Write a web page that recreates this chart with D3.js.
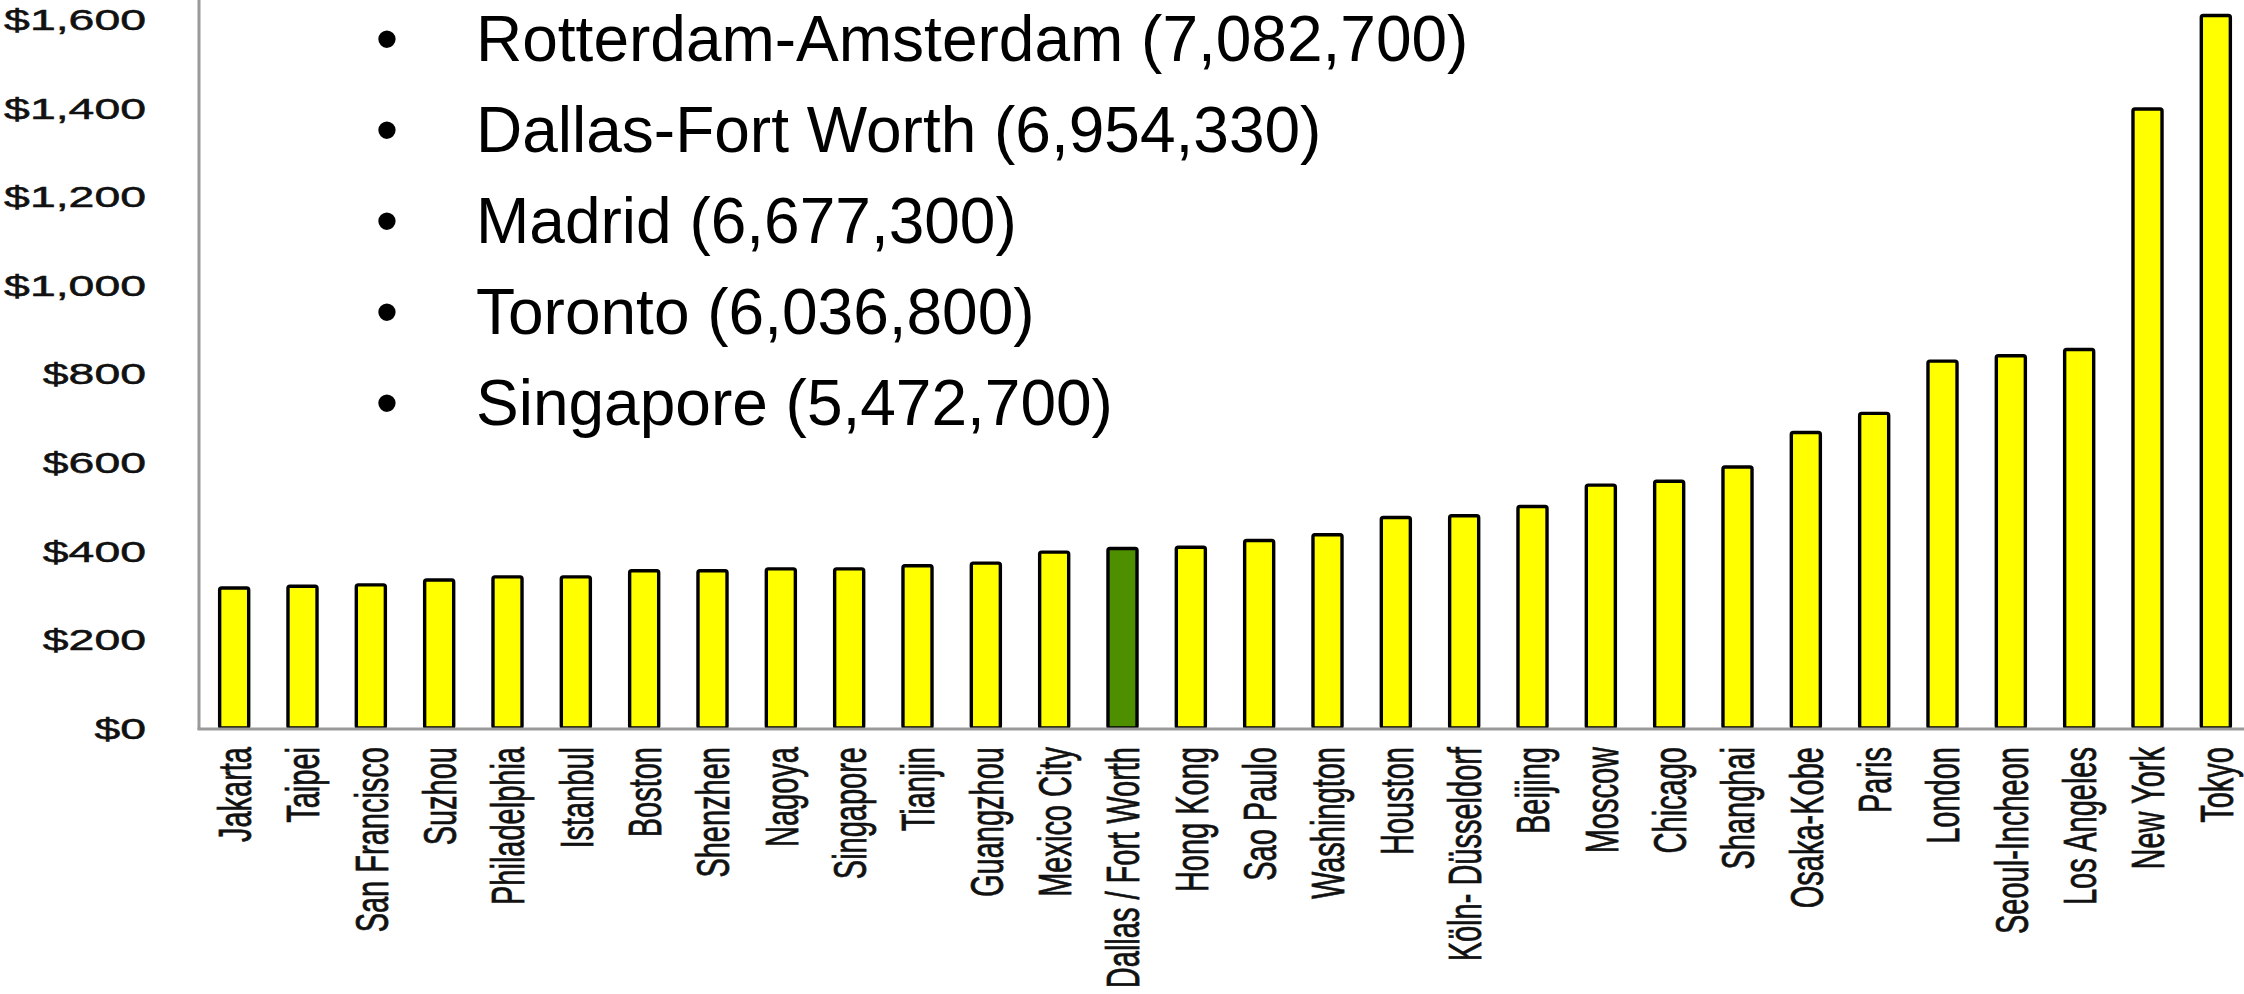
<!DOCTYPE html>
<html>
<head>
<meta charset="utf-8">
<script src="https://cdn.jsdelivr.net/npm/d3@7"></script>
<style>
  body { margin: 0; background: #fff; }
  svg { display: block; font-family: "Liberation Sans", Arial, sans-serif; }
</style>
</head>
<body>
<div id="chart"></div>
<script>
// donnees
const cities = ["Jakarta", "Taipei", "San Francisco", "Suzhou", "Philadelphia", "Istanbul",
  "Boston", "Shenzhen", "Nagoya", "Singapore", "Tianjin", "Guangzhou", "Mexico City",
  "Dallas / Fort Worth", "Hong Kong", "Sao Paulo", "Washington", "Houston",
  "Köln- Düsseldorf", "Beijing", "Moscow", "Chicago", "Shanghai", "Osaka-Kobe", "Paris",
  "London", "Seoul-Incheon", "Los Angeles", "New York", "Tokyo"];
const gdp = [316, 320, 323, 334, 341, 341, 355, 355, 359, 359, 366, 372, 397,
  405, 408, 423, 436, 475, 479, 500, 548, 557, 589, 667, 710, 828, 840, 854, 1397, 1608];
const highlight = "Dallas / Fort Worth";
const yTicks = [0, 200, 400, 600, 800, 1000, 1200, 1400, 1600];
const notes = ["Rotterdam-Amsterdam (7,082,700)", "Dallas-Fort Worth (6,954,330)",
  "Madrid (6,677,300)", "Toronto (6,036,800)", "Singapore (5,472,700)"];

const width = 2244;
const height = 994;
const x0 = 200, x1 = 2250, y0 = 728;

const svg = d3.select("#chart")
  .append("svg")
  .attr("width", width)
  .attr("height", height);

const x = d3.scaleBand()
  .domain(cities)
  .range([x0, x1])
  .paddingInner(0.575)
  .paddingOuter(0.2875);

const y = d3.scaleLinear()
  .domain([0, 1600])
  .range([y0, 19]);

// barres
svg.append("g")
  .selectAll("rect")
  .data(cities)
  .join("rect")
  .attr("x", d => x(d))
  .attr("y", (d, i) => y(gdp[i]))
  .attr("width", x.bandwidth())
  .attr("height", (d, i) => y0 - y(gdp[i]))
  .attr("rx", 2)
  .style("fill", d => d === highlight ? "#4e8f00" : "#ffff00")
  .style("stroke", "#000")
  .style("stroke-width", "3.4px");

// axes
svg.append("line")
  .attr("x1", x0 - 1).attr("x2", x0 - 1)
  .attr("y1", 0).attr("y2", y0 + 1.5)
  .style("stroke", "#9a9a9a").style("stroke-width", "3px");
svg.append("line")
  .attr("x1", x0 - 2.5).attr("x2", width)
  .attr("y1", y0 + 1).attr("y2", y0 + 1)
  .style("stroke", "#9a9a9a").style("stroke-width", "3px");

const yAxis = svg.append("g")
  .attr("transform", "translate(" + (x0 - 54) + ",0)")
  .call(d3.axisLeft(y)
    .tickValues(yTicks)
    .tickSize(0)
    .tickPadding(0)
    .tickFormat(d => "$" + d3.format(",")(d)));
yAxis.select(".domain").remove();
yAxis.selectAll("text")
  .attr("x", 0)
  .attr("dy", "0.36em")
  .attr("transform", "scale(1.6,1)")
  .style("font-family", "'Liberation Sans', Arial, sans-serif")
  .style("font-size", "29px")
  .style("fill", "#111")
  .style("stroke", "#111")
  .style("stroke-width", "0.5px");

// etiquettes des villes, tournees
svg.append("g")
  .selectAll("text")
  .data(cities)
  .join("text")
  .attr("transform", d => "translate(" + (x(d) + x.bandwidth() / 2) + ",747) scale(1.6,1) rotate(-90)")
  .attr("text-anchor", "end")
  .attr("dy", "0.36em")
  .style("font-size", "29px")
  .style("fill", "#111")
  .style("stroke", "#111")
  .style("stroke-width", "0.5px")
  .text(d => d);

// liste a puces
const list = svg.append("g");
list.selectAll("text.bullet")
  .data(notes)
  .join("text")
  .attr("class", "bullet")
  .attr("x", 387)
  .attr("y", (d, i) => 61 + i * 91)
  .attr("text-anchor", "middle")
  .style("font-size", "64px")
  .text("•");
list.selectAll("text.note")
  .data(notes)
  .join("text")
  .attr("class", "note")
  .attr("x", 476)
  .attr("y", (d, i) => 61 + i * 91)
  .style("font-size", "64px")
  .style("fill", "#000")
  .text(d => d);
</script>
</body>
</html>
